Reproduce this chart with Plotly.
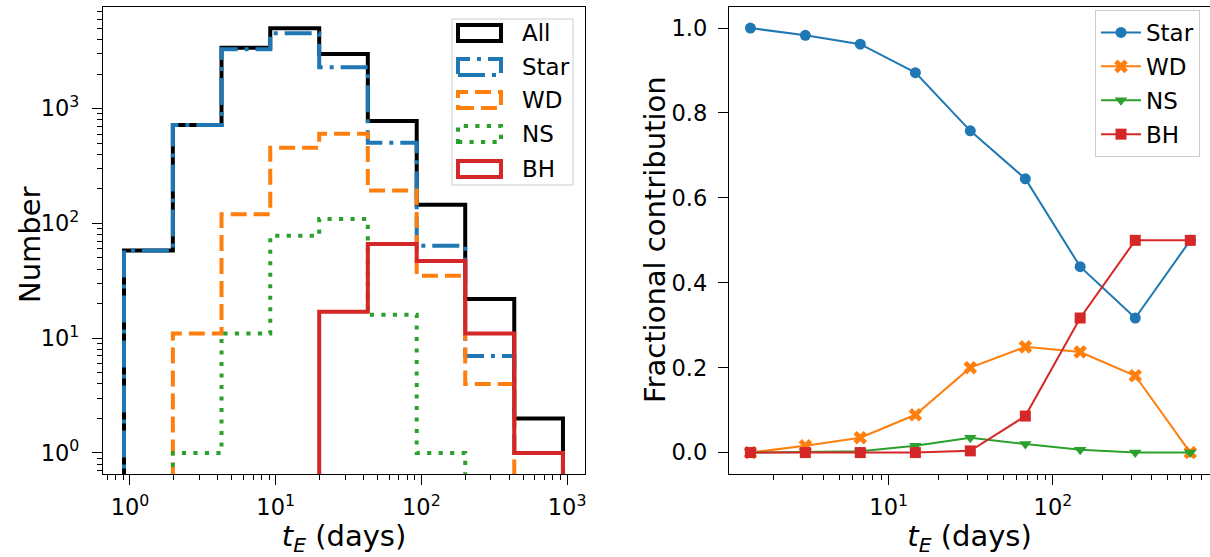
import plotly.graph_objects as go
import numpy as np

# ---------------- data ----------------
bin_edges = [0.91, 1.97, 4.25, 9.18, 19.9, 42.9, 92.9, 200.0, 434.0, 937.0]
hist_labels = ["All", "Star", "WD", "NS", "BH"]
counts_all = [58, 720, 3390, 5010, 2990, 780, 145, 22, 2]
counts_star = [58, 720, 3290, 4530, 2290, 505, 64, 7, 1]
counts_wd = [0, 11, 120, 456, 605, 193, 35, 4, 0]
counts_ns = [0, 1, 11, 78, 109, 16, 1, 0, 0]
counts_bh = [0, 0, 0, 0, 17, 66, 47, 11, 1]

frac_labels = ["Star", "WD", "NS", "BH"]
frac_star = [1.0, 0.983, 0.962, 0.895, 0.758, 0.645, 0.438, 0.317, 0.5]
frac_wd = [0.0, 0.016, 0.035, 0.089, 0.2, 0.249, 0.237, 0.181, 0.0]
frac_ns = [0.0, 0.001, 0.003, 0.016, 0.035, 0.02, 0.0065, 0.0, 0.0]
frac_bh = [0.0, 0.0, 0.0, 0.0, 0.004, 0.086, 0.317, 0.5, 0.5]

xtick_vals_left = [1, 10, 100, 1000]
xtick_text_left = ["10<sup>0</sup>", "10<sup>1</sup>", "10<sup>2</sup>", "10<sup>3</sup>"]
ytick_vals_left = [1, 10, 100, 1000]
ytick_text_left = ["10<sup>0</sup>", "10<sup>1</sup>", "10<sup>2</sup>", "10<sup>3</sup>"]
xtick_vals_right = [10, 100]
xtick_text_right = ["10<sup>1</sup>", "10<sup>2</sup>"]
ytick_vals_right = [0.0, 0.2, 0.4, 0.6, 0.8, 1.0]
ytick_text_right = ["0.0", "0.2", "0.4", "0.6", "0.8", "1.0"]

# ---------------- styles ----------------
W, H = 1210, 557
FONT = "DejaVu Sans"
BLUE, ORANGE, GREEN, RED, BLACK = "#1f77b4", "#ff7f0e", "#2ca02c", "#d62728", "#000000"
hist_styles = {
    "All": dict(color=BLACK, dash="solid"),
    "Star": dict(color=BLUE, dash="27px,7px,4px,7px"),
    "WD": dict(color=ORANGE, dash="16px,7px"),
    "NS": dict(color=GREEN, dash="4.2px,7.3px"),
    "BH": dict(color=RED, dash="solid"),
}
LW = 4


def step_xy(edges, counts, floor=1e-2):
    xs, ys = [edges[0]], [floor]
    for i, c in enumerate(counts):
        v = c if c > 0 else floor
        xs += [edges[i], edges[i + 1]]
        ys += [v, v]
    xs.append(edges[-1])
    ys.append(floor)
    return xs, ys


fig = go.Figure()

hist_counts = [counts_all, counts_star, counts_wd, counts_ns, counts_bh]
for name, cnt in zip(hist_labels, hist_counts):
    xs, ys = step_xy(bin_edges, cnt)
    st = hist_styles[name]
    fig.add_trace(go.Scatter(
        x=xs, y=ys, mode="lines", name=name, showlegend=False,
        line=dict(color=st["color"], width=LW, dash=st["dash"]),
        xaxis="x", yaxis="y", hoverinfo="skip",
    ))

centers = [(bin_edges[i] + bin_edges[i + 1]) / 2 for i in range(len(bin_edges) - 1)]
frac_series = [frac_star, frac_wd, frac_ns, frac_bh]
frac_colors = [BLUE, ORANGE, GREEN, RED]
frac_symbols = ["circle", "x", "triangle-down", "square"]
frac_sizes = [11, 12, 11, 11]
for name, vals, col, sym, sz in zip(frac_labels, frac_series, frac_colors, frac_symbols, frac_sizes):
    fig.add_trace(go.Scatter(
        x=centers, y=vals, mode="lines+markers", name=name,
        line=dict(color=col, width=2),
        marker=dict(symbol=sym, size=sz, color=col, line=dict(width=0)),
        xaxis="x2", yaxis="y2", legendgroup=name,
    ))

# ---------------- axes ----------------
def px2x(p):
    return p / W


def px2y(p):
    return 1 - p / H


ydom = [px2y(474), px2y(7)]
tickfont = dict(family=FONT, size=22.5, color="black")
titlefont = dict(family=FONT, size=29, color="black")

common = dict(
    showline=True, linecolor="black", linewidth=1.3, mirror=True,
    ticks="outside", ticklen=10, tickwidth=1.3, tickcolor="black",
    showgrid=False, zeroline=False, tickfont=tickfont,
)

minor_x_left = [v * m for m in (0.1, 1, 10, 100) for v in range(2, 10)]
minor_x_left = [v for v in minor_x_left if 0.65 < v < 1300]
minor_y_left = [v * m for m in (0.1, 1, 10, 100, 1000) for v in range(2, 10)]
minor_y_left = [v for v in minor_y_left if 0.65 < v < 7600]
minor_x_right = [v * m for m in (1, 10, 100) for v in range(2, 10)]
minor_x_right = [v for v in minor_x_right if 1.07 < v < 900]

fig.update_layout(
    width=W, height=H,
    margin=dict(l=0, r=0, t=0, b=0),
    paper_bgcolor="white", plot_bgcolor="white",
    font=dict(family=FONT, color="black"),
    xaxis=dict(
        common, type="log", domain=[px2x(103), px2x(585)], range=[-0.185, 3.123],
        tickmode="array", tickvals=xtick_vals_left, ticktext=xtick_text_left,
        minor=dict(tickmode="array", tickvals=minor_x_left, ticks="outside", ticklen=5,
                   tickwidth=1, tickcolor="black", showgrid=False),
        ticklabelstandoff=3,
        title=dict(text="<i>t</i><sub><i>E</i></sub> (days)", font=titlefont, standoff=2),
        anchor="y",
    ),
    yaxis=dict(
        common, type="log", domain=ydom, range=[-0.183, 3.885],
        tickmode="array", tickvals=ytick_vals_left, ticktext=ytick_text_left,
        minor=dict(tickmode="array", tickvals=minor_y_left, ticks="outside", ticklen=5,
                   tickwidth=1, tickcolor="black", showgrid=False),
        ticklabelstandoff=8,
        anchor="x",
    ),
    xaxis2=dict(
        common, type="log", domain=[px2x(729), 1.0], range=[0.028, 2.956],
        tickmode="array", tickvals=xtick_vals_right, ticktext=xtick_text_right,
        minor=dict(tickmode="array", tickvals=minor_x_right, ticks="outside", ticklen=5,
                   tickwidth=1, tickcolor="black", showgrid=False),
        ticklabelstandoff=3,
        title=dict(text="<i>t</i><sub><i>E</i></sub> (days)", font=titlefont, standoff=2),
        anchor="y2",
    ),
    yaxis2=dict(
        common, domain=ydom, range=[-0.0505, 1.0497],
        tickmode="array", tickvals=ytick_vals_right, ticktext=ytick_text_right,
        ticklabelstandoff=6,
        anchor="x2",
    ),
    legend=dict(
        x=px2x(1200), y=px2y(10), xanchor="right", yanchor="top",
        font=dict(family=FONT, size=23, color="black"),
        bgcolor="rgba(255,255,255,0.8)", bordercolor="#cccccc", borderwidth=1,
        tracegroupgap=1, itemwidth=40,
    ),
)

# ---------------- left legend (histogram patches) + y titles ----------------
shapes = [dict(type="rect", xref="paper", yref="paper",
               x0=px2x(452), x1=px2x(573), y0=px2y(185), y1=px2y(19),
               line=dict(color="#cccccc", width=1), fillcolor="rgba(255,255,255,0.8)",
               layer="above")]
annotations = []
centers_y = [33, 67, 100, 134, 169]
for name, cy in zip(hist_labels, centers_y):
    st = hist_styles[name]
    shapes.append(dict(type="rect", xref="paper", yref="paper",
                       x0=px2x(458), x1=px2x(501), y0=px2y(cy + 8), y1=px2y(cy - 8),
                       line=dict(color=st["color"], width=LW, dash=st["dash"]),
                       fillcolor="rgba(0,0,0,0)", layer="above"))
    annotations.append(dict(xref="paper", yref="paper", x=px2x(520), y=px2y(cy),
                            xanchor="left", yanchor="middle", showarrow=False, text=name,
                            font=dict(family=FONT, size=23, color="black")))

annotations.append(dict(xref="paper", yref="paper", x=px2x(30), y=px2y(245),
                        xanchor="center", yanchor="middle", showarrow=False, text="Number",
                        textangle=-90, font=titlefont))
annotations.append(dict(xref="paper", yref="paper", x=px2x(655), y=px2y(240),
                        xanchor="center", yanchor="middle", showarrow=False,
                        text="Fractional contribution", textangle=-90, font=titlefont))
fig.update_layout(shapes=shapes, annotations=annotations)

fig.write_html("out.html")
